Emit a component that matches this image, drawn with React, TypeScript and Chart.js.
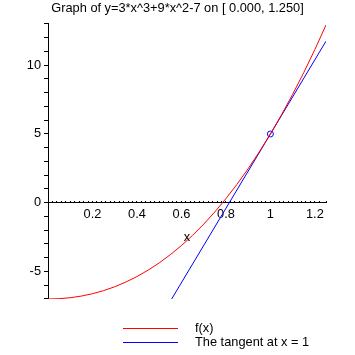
import React, { useEffect, useRef } from "react";
import { Chart, registerables } from "chart.js";

Chart.register(...registerables);

const TITLE = "Graph of y=3*x^3+9*x^2-7 on [ 0.000, 1.250]";
const AXIS_LABEL = "x";

const fX = [0, 0.05, 0.1, 0.15, 0.2, 0.25, 0.3, 0.35, 0.4, 0.45, 0.5, 0.55, 0.6, 0.65, 0.7, 0.75, 0.8, 0.85, 0.9, 0.95, 1.0, 1.05, 1.1, 1.15, 1.2, 1.25];
const fY = [-7, -6.977, -6.907, -6.787, -6.616, -6.391, -6.109, -5.769, -5.368, -4.904, -4.375, -3.778, -3.112, -2.374, -1.561, -0.672, 0.296, 1.345, 2.477, 3.695, 5, 6.395, 7.883, 9.465, 11.144, 12.922];

const tanX = [0.556, 1.25];
const tanY = [-7, 11.75];

const pointX = [1];
const pointY = [5];

const seriesLabels = ["f(x)", "The tangent at x = 1"];

const xTickValues = [0.2, 0.4, 0.6, 0.8, 1, 1.2];
const xTickLabels = ["0.2", "0.4", "0.6", "0.8", "1", "1.2"];
const yTickValues = [-5, 0, 5, 10];
const yTickLabels = ["-5", "0", "5", "10"];

const FONT = "'Liberation Sans', Arial, sans-serif";
const FS = 12.8;

function labelFor(v: number, values: number[], labels: string[]) {
  for (let i = 0; i < values.length; i++) {
    if (Math.abs(values[i] - v) < 1e-6) return labels[i];
  }
  return "";
}

const extrasPlugin = {
  id: "extras",
  afterDraw(chart: any) {
    const ctx = chart.ctx;
    const xs = chart.scales.x;
    const ys = chart.scales.y;
    ctx.save();
    ctx.font = `${FS}px ${FONT}`;
    ctx.fillStyle = "#000";
    ctx.textAlign = "center";
    ctx.textBaseline = "middle";
    ctx.fillText(AXIS_LABEL, xs.getPixelForValue(0.625), ys.getPixelForValue(0) + 35);
    const ds = chart.data.datasets.filter((d: any) => d.label);
    ds.forEach((d: any, i: number) => {
      const y = 328.5 + i * 14;
      ctx.strokeStyle = d.borderColor;
      ctx.lineWidth = 1;
      ctx.beginPath();
      ctx.moveTo(123, y);
      ctx.lineTo(178, y);
      ctx.stroke();
      ctx.textAlign = "left";
      ctx.fillStyle = "#000";
      ctx.fillText(d.label, 195, y);
    });
    ctx.restore();
  },
};

export default function App() {
  const ref = useRef<HTMLCanvasElement | null>(null);
  useEffect(() => {
    if (!ref.current) return;
    const chart = new Chart(ref.current, {
      type: "scatter",
      data: {
        datasets: [
          {
            label: seriesLabels[0],
            data: fX.map((x, i) => ({ x, y: fY[i] })),
            showLine: true,
            borderColor: "#ff0000",
            borderWidth: 1,
            pointRadius: 0,
            tension: 0,
          },
          {
            label: seriesLabels[1],
            data: tanX.map((x, i) => ({ x, y: tanY[i] })),
            showLine: true,
            borderColor: "#0000ff",
            borderWidth: 1,
            pointRadius: 0,
          },
          {
            data: pointX.map((x, i) => ({ x, y: pointY[i] })),
            showLine: false,
            pointRadius: 3,
            pointStyle: "circle",
            borderColor: "#0000ff",
            backgroundColor: "rgba(0,0,0,0)",
            borderWidth: 1,
          },
        ],
      } as any,
      options: {
        animation: false,
        responsive: false,
        events: [],
        layout: { padding: { left: 0, right: 0, top: 0, bottom: 56 } },
        plugins: {
          legend: { display: false },
          tooltip: { enabled: false },
          title: {
            display: true,
            text: TITLE,
            color: "#000",
            font: { family: FONT, size: FS, weight: "normal" },
            padding: { top: 0.5, bottom: 8.1 },
          },
        },
        scales: {
          x: {
            type: "linear",
            min: 0,
            max: 1.25,
            position: { y: 0 } as any,
            afterFit: (s: any) => {
              s.height = 0;
              s.paddingLeft = 0;
              s.paddingRight = 0;
            },
            border: { color: "#000", width: 1 },
            grid: { drawOnChartArea: false, drawTicks: true, tickLength: -2, color: "#000", tickColor: "#000" },
            ticks: {
              stepSize: 0.02,
              autoSkip: false,
              maxRotation: 0,
              minRotation: 0,
              padding: 6,
              color: "#000",
              font: { family: FONT, size: FS },
              callback: (v: any) => labelFor(Number(v), xTickValues, xTickLabels),
            },
          },
          y: {
            type: "linear",
            min: -7,
            max: 13,
            position: "left",
            afterFit: (s: any) => {
              s.width = 48;
              s.paddingTop = 0;
              s.paddingBottom = 0;
            },
            border: { color: "#000", width: 1 },
            grid: { drawOnChartArea: false, drawTicks: true, tickLength: 4, color: "#000", tickColor: "#000" },
            ticks: {
              stepSize: 1,
              autoSkip: false,
              padding: 3,
              color: "#000",
              font: { family: FONT, size: FS },
              callback: (v: any) => labelFor(Number(v), yTickValues, yTickLabels),
            },
          },
          yRight: {
            type: "linear",
            position: "right",
            min: -7,
            max: 13,
            afterFit: (s: any) => {
              s.width = 29;
              s.paddingTop = 0;
              s.paddingBottom = 0;
            },
            border: { display: false },
            grid: { display: false, drawTicks: false },
            ticks: { display: false },
          },
        },
      } as any,
      plugins: [extrasPlugin],
    });
    return () => chart.destroy();
  }, []);
  return (
    <div style={{ position: "fixed", left: 0, top: 0, width: 355, height: 355, background: "#fff" }}>
      <canvas ref={ref} width={355} height={355} style={{ display: "block" }} />
    </div>
  );
}
